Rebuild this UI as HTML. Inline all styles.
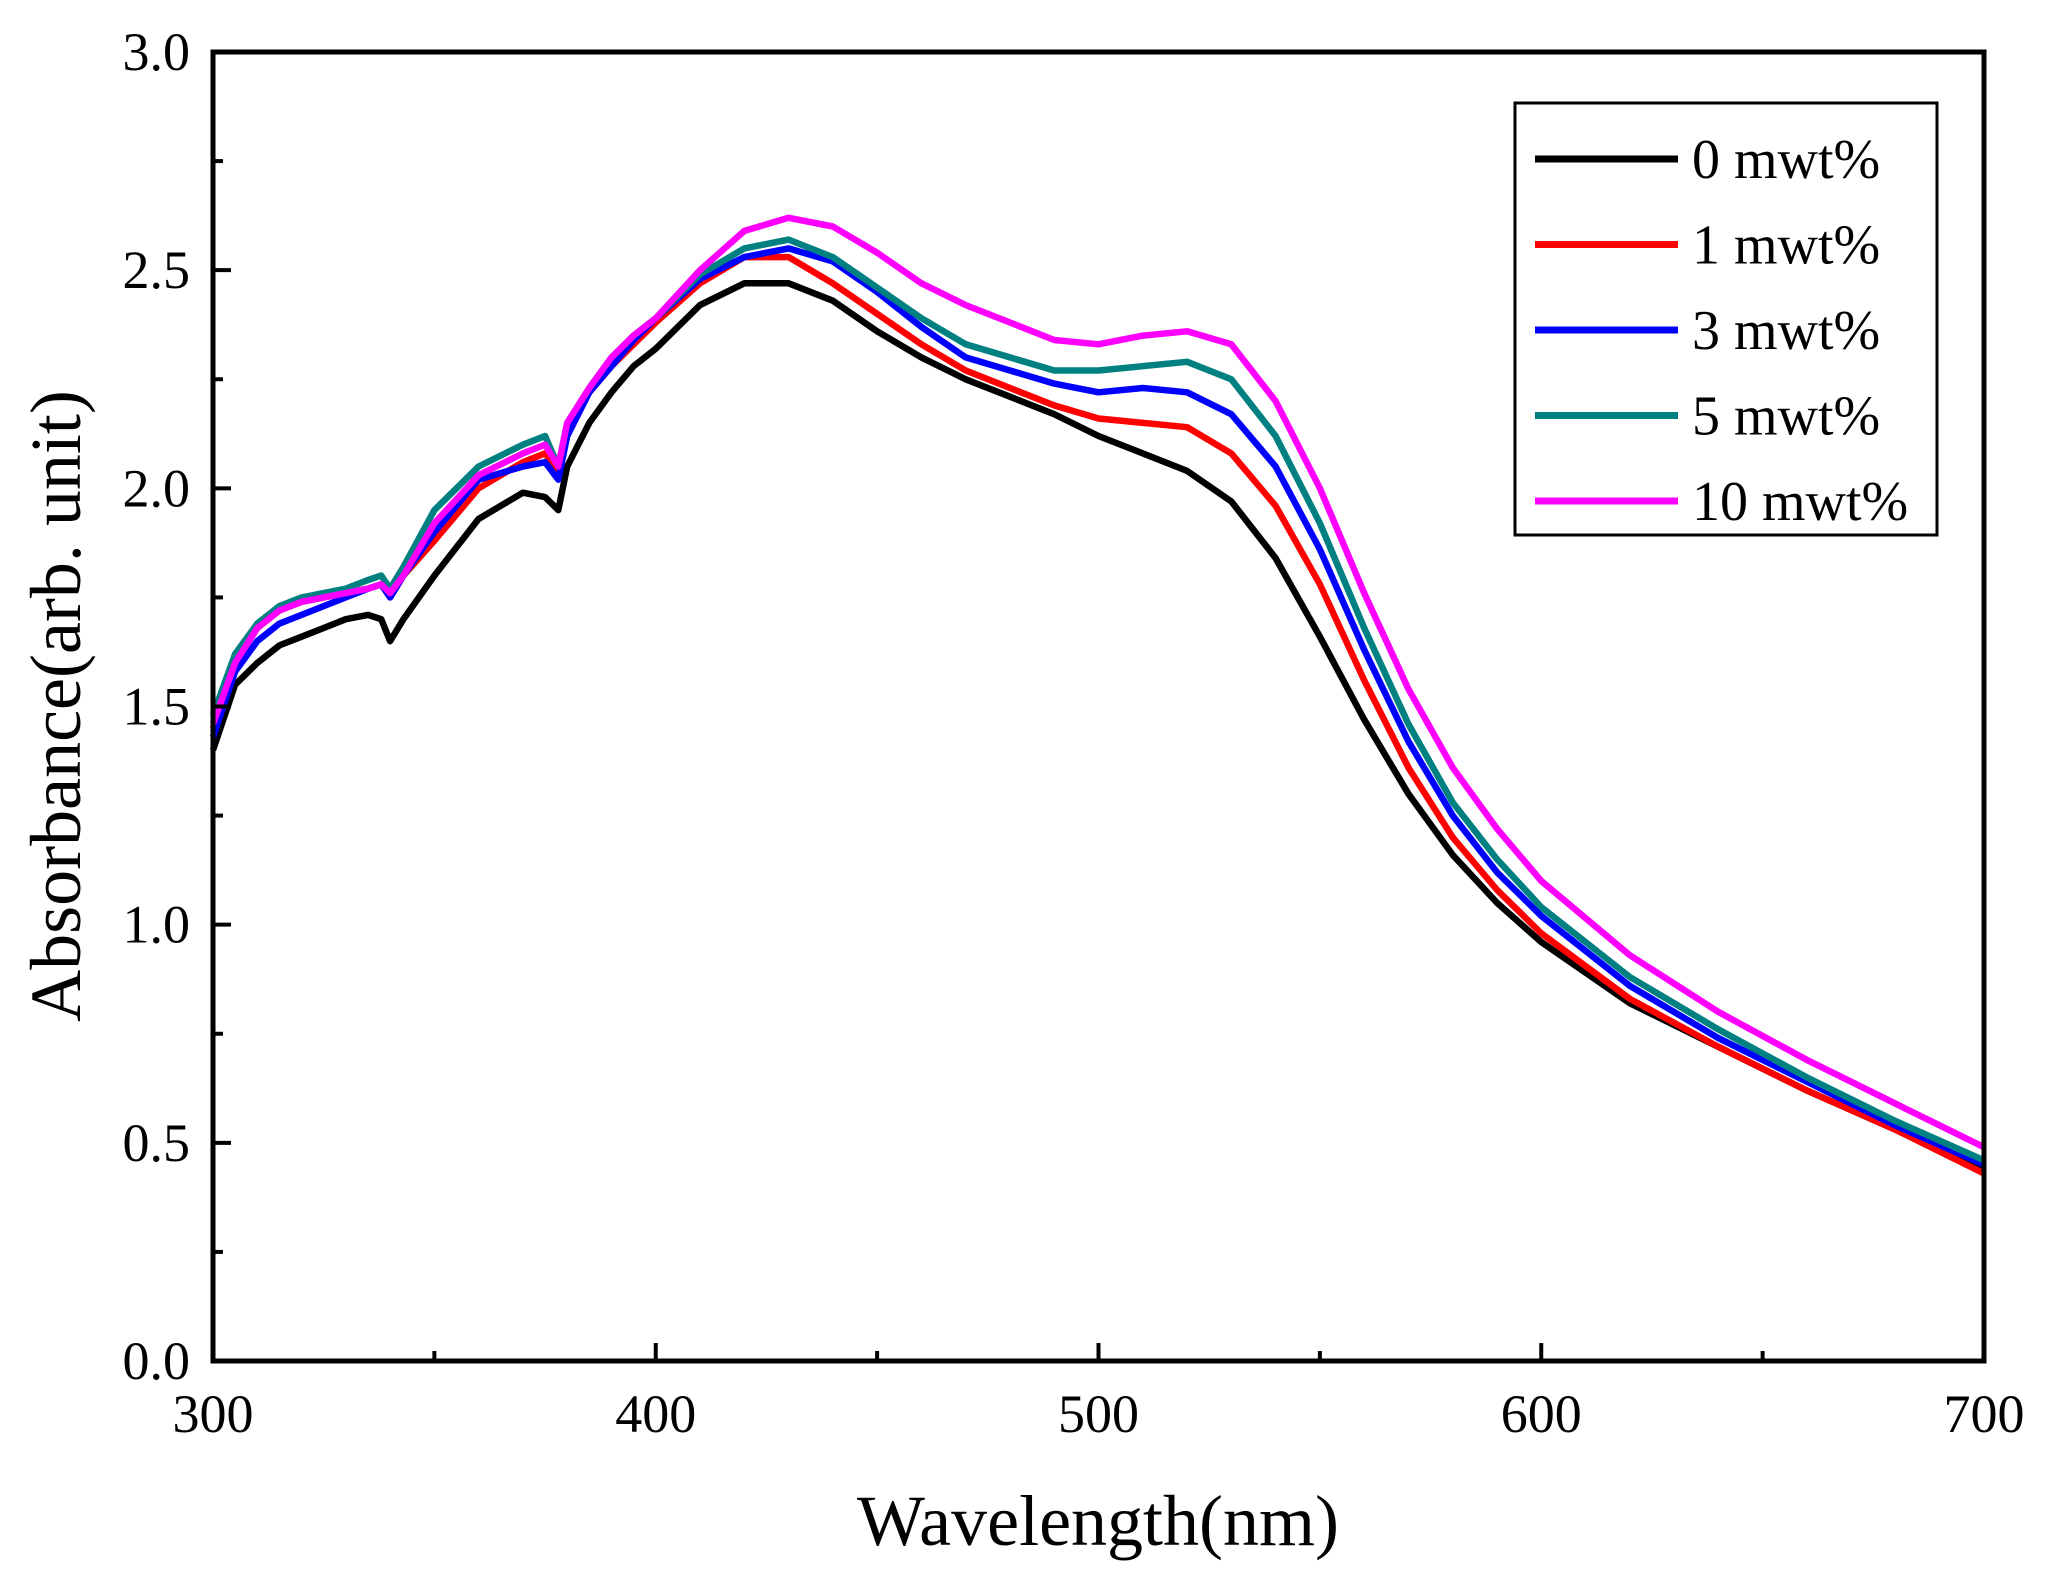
<!DOCTYPE html>
<html><head><meta charset="utf-8"><style>
body{margin:0;background:#fff}
svg{display:block;font-family:"Liberation Serif",serif}
</style></head><body>
<svg id="chart" width="2045" height="1579" viewBox="0 0 2045 1579">
<rect width="2045" height="1579" fill="#fff"/>
<g id="marks"></g>
<rect x="213" y="52" width="1771" height="1309" fill="none" stroke="#000" stroke-width="5"/>
<g id="ticks"></g>
<text x="1098" y="1545" font-size="72" text-anchor="middle">Wavelength(nm)</text>
<text transform="translate(80,706) rotate(-90)" font-size="72" text-anchor="middle">Absorbance(arb. unit)</text>
<g>
<rect x="1515" y="103" width="422" height="432" fill="#fff" stroke="#000" stroke-width="3"/>
<g id="legend"></g>
</g>
</svg>
<script>
const wavelengths=[300,305,310,315,320,325,330,335,338,340,343,350,360,370,375,378,380,385,390,395,400,410,420,430,440,450,460,470,480,490,500,510,520,530,540,550,560,570,580,590,600,620,640,660,680,700];
const s0=[1.40,1.55,1.60,1.64,1.66,1.68,1.70,1.71,1.70,1.65,1.70,1.80,1.93,1.99,1.98,1.95,2.05,2.15,2.22,2.28,2.32,2.42,2.47,2.47,2.43,2.36,2.30,2.25,2.21,2.17,2.12,2.08,2.04,1.97,1.84,1.66,1.47,1.30,1.16,1.05,0.96,0.82,0.72,0.62,0.53,0.44];
const s1=[1.45,1.60,1.68,1.72,1.74,1.75,1.76,1.77,1.78,1.75,1.80,1.88,2.00,2.06,2.08,2.04,2.14,2.22,2.28,2.33,2.38,2.47,2.53,2.53,2.47,2.40,2.33,2.27,2.23,2.19,2.16,2.15,2.14,2.08,1.96,1.78,1.56,1.36,1.20,1.08,0.98,0.83,0.72,0.62,0.53,0.43];
const s3=[1.43,1.58,1.65,1.69,1.71,1.73,1.75,1.77,1.78,1.75,1.80,1.90,2.02,2.05,2.06,2.02,2.12,2.22,2.28,2.34,2.39,2.48,2.53,2.55,2.52,2.45,2.37,2.30,2.27,2.24,2.22,2.23,2.22,2.17,2.05,1.86,1.63,1.42,1.25,1.12,1.02,0.86,0.74,0.64,0.54,0.45];
const s5=[1.48,1.62,1.69,1.73,1.75,1.76,1.77,1.79,1.80,1.77,1.82,1.95,2.05,2.10,2.12,2.05,2.15,2.23,2.30,2.35,2.39,2.49,2.55,2.57,2.53,2.46,2.39,2.33,2.30,2.27,2.27,2.28,2.29,2.25,2.12,1.92,1.68,1.46,1.28,1.15,1.04,0.88,0.76,0.65,0.55,0.46];
const s10=[1.46,1.60,1.68,1.72,1.74,1.75,1.76,1.77,1.78,1.76,1.80,1.92,2.03,2.08,2.10,2.05,2.15,2.23,2.30,2.35,2.39,2.50,2.59,2.62,2.60,2.54,2.47,2.42,2.38,2.34,2.33,2.35,2.36,2.33,2.20,2.00,1.76,1.54,1.36,1.22,1.10,0.93,0.80,0.69,0.59,0.49];
const seriesLabels=["0 mwt%","1 mwt%","3 mwt%","5 mwt%","10 mwt%"];
const xTicks=[300,400,500,600,700];
const yTicks=[0.0,0.5,1.0,1.5,2.0,2.5,3.0];

const X0=213,X1=1984,Y0=1361,Y1=52;
const xs=v=>X0+(v-300)/400*(X1-X0);
const ys=v=>Y0-v/3*(Y0-Y1);
const NS="http://www.w3.org/2000/svg";
const colors=["#000000","#ff0000","#0000ff","#008080","#ff00ff"];
const series=[s0,s1,s3,s5,s10];
const names=["series-0-mwt","series-1-mwt","series-3-mwt","series-5-mwt","series-10-mwt"];
const marks=document.getElementById('marks');
series.forEach((s,i)=>{
  const p=document.createElementNS(NS,'polyline');
  p.setAttribute('points',s.map((v,j)=>xs(wavelengths[j]).toFixed(1)+','+ys(v).toFixed(1)).join(' '));
  p.setAttribute('fill','none');p.setAttribute('stroke',colors[i]);p.setAttribute('stroke-width','6.5');p.setAttribute('stroke-linejoin','round');
  
  
  marks.appendChild(p);
});
const tk=document.getElementById('ticks');
function line(x1,y1,x2,y2){const l=document.createElementNS(NS,'line');l.setAttribute('x1',x1);l.setAttribute('y1',y1);l.setAttribute('x2',x2);l.setAttribute('y2',y2);l.setAttribute('stroke','#000');l.setAttribute('stroke-width','4');


tk.appendChild(l);}
function text(x,y,t,anchor,name){const e=document.createElementNS(NS,'text');e.setAttribute('x',x);e.setAttribute('y',y);e.setAttribute('font-size','54');e.setAttribute('text-anchor',anchor);e.textContent=t;


tk.appendChild(e);}
for(let v=300;v<=700;v+=50){const x=xs(v);line(x,Y0,x,Y0-(v%100?10:18));}
xTicks.forEach(v=>text(xs(v),1432,String(v),'middle','x-tick-label'));
for(let k=0;k<=12;k++){const v=k*0.25,y=ys(v);line(X0,y,X0+(k%2?10:18),y);}
yTicks.forEach(v=>text(190,ys(v)+18,v.toFixed(1),'end','y-tick-label'));
const lg=document.getElementById('legend');
seriesLabels.forEach((t,i)=>{
  const y=159+i*85.5;
  const l=document.createElementNS(NS,'line');l.setAttribute('x1',1535);l.setAttribute('x2',1678);l.setAttribute('y1',y);l.setAttribute('y2',y);l.setAttribute('stroke',colors[i]);l.setAttribute('stroke-width','7');
  
  
  lg.appendChild(l);
  const e=document.createElementNS(NS,'text');e.setAttribute('x',1692);e.setAttribute('y',y+19);e.setAttribute('font-size','56');e.textContent=t;
  
  
  lg.appendChild(e);
});
</script>
</body></html>
